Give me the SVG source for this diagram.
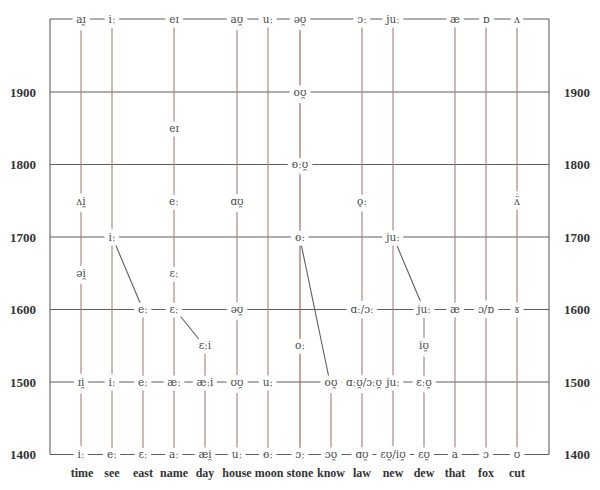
<svg xmlns="http://www.w3.org/2000/svg" width="600" height="490" viewBox="0 0 600 490">
<style>
.v{stroke:#a87c76;stroke-width:1.1;fill:none}
.h{stroke:#5e5e5e;stroke-width:1.1;fill:none}
.d{stroke:#5e5e5e;stroke-width:1.1;fill:none}
.ipa{font-family:"DejaVu Serif",serif;font-size:10.5px;fill:#4a4a4a;text-anchor:middle;stroke:#fff;stroke-width:9;stroke-linejoin:round;paint-order:stroke}
.yr{font-family:"Liberation Serif",serif;font-weight:bold;font-size:13px;fill:#333;text-anchor:middle}
.wd{font-family:"Liberation Serif",serif;font-weight:bold;font-size:12px;fill:#333;text-anchor:middle}
</style>
<rect width="600" height="490" fill="#fff"/>
<g id="connectors">
<line class="h" x1="50" y1="19" x2="50" y2="454.5"/>
<line class="h" x1="549" y1="19" x2="549" y2="454.5"/>
<line class="h" x1="50" y1="19" x2="549" y2="19"/>
<line class="h" x1="50" y1="92" x2="549" y2="92"/>
<line class="h" x1="50" y1="164.5" x2="549" y2="164.5"/>
<line class="h" x1="50" y1="237" x2="549" y2="237"/>
<line class="h" x1="50" y1="309.5" x2="549" y2="309.5"/>
<line class="h" x1="50" y1="382" x2="549" y2="382"/>
<line class="h" x1="50" y1="454.5" x2="549" y2="454.5"/>
<line class="v" x1="81" y1="19" x2="81" y2="454.5"/>
<line class="v" x1="112" y1="19" x2="112" y2="454.5"/>
<line class="v" x1="143" y1="309.5" x2="143" y2="454.5"/>
<line class="v" x1="174" y1="19" x2="174" y2="454.5"/>
<line class="v" x1="205" y1="345.7" x2="205" y2="454.5"/>
<line class="v" x1="237" y1="19" x2="237" y2="454.5"/>
<line class="v" x1="268" y1="19" x2="268" y2="454.5"/>
<line class="v" x1="300" y1="19" x2="300" y2="454.5" style="stroke:#9a5a52"/>
<line class="v" x1="331" y1="382" x2="331" y2="454.5"/>
<line class="v" x1="362" y1="19" x2="362" y2="454.5"/>
<line class="v" x1="393" y1="19" x2="393" y2="454.5"/>
<line class="v" x1="424" y1="309.5" x2="424" y2="454.5"/>
<line class="v" x1="455" y1="19" x2="455" y2="454.5"/>
<line class="v" x1="486" y1="19" x2="486" y2="454.5"/>
<line class="v" x1="517" y1="19" x2="517" y2="454.5"/>
<line class="d" x1="114" y1="241" x2="141" y2="305"/>
<line class="d" x1="177" y1="312" x2="202" y2="343"/>
<line class="d" x1="300.5" y1="241" x2="329" y2="378"/>
<line class="d" x1="395" y1="241" x2="422" y2="305"/>
</g>
<g id="years">
<text class="yr" x="23" y="96.5">1900</text>
<text class="yr" x="23" y="169">1800</text>
<text class="yr" x="23" y="241.5">1700</text>
<text class="yr" x="23" y="314">1600</text>
<text class="yr" x="23" y="386.5">1500</text>
<text class="yr" x="23" y="459">1400</text>
<text class="yr" x="577" y="96.5">1900</text>
<text class="yr" x="577" y="169">1800</text>
<text class="yr" x="577" y="241.5">1700</text>
<text class="yr" x="577" y="314">1600</text>
<text class="yr" x="577" y="386.5">1500</text>
<text class="yr" x="577" y="459">1400</text>
</g>
<g id="words">
<text class="wd" x="82" y="477">time</text>
<text class="wd" x="112" y="477">see</text>
<text class="wd" x="143" y="477">east</text>
<text class="wd" x="174" y="477">name</text>
<text class="wd" x="205" y="477">day</text>
<text class="wd" x="237" y="477">house</text>
<text class="wd" x="269" y="477">moon</text>
<text class="wd" x="300" y="477">stone</text>
<text class="wd" x="331" y="477">know</text>
<text class="wd" x="362" y="477">law</text>
<text class="wd" x="393" y="477">new</text>
<text class="wd" x="424" y="477">dew</text>
<text class="wd" x="455" y="477">that</text>
<text class="wd" x="486" y="477">fox</text>
<text class="wd" x="517" y="477">cut</text>
</g>
<g id="time">
<text class="ipa" x="81" y="22.5">aɪ̯</text>
<text class="ipa" x="81" y="204.5">ʌi̯</text>
<text class="ipa" x="81" y="276.5">əi̯</text>
<text class="ipa" x="81" y="385.5">ɪi̯</text>
<text class="ipa" x="81" y="458">iː</text>
</g>
<g id="see">
<text class="ipa" x="112" y="22.5">iː</text>
<text class="ipa" x="112" y="240.5">iː</text>
<text class="ipa" x="112" y="385.5">iː</text>
<text class="ipa" x="112" y="458">eː</text>
</g>
<g id="east">
<text class="ipa" x="143" y="313">eː</text>
<text class="ipa" x="143" y="385.5">eː</text>
<text class="ipa" x="143" y="458">ɛː</text>
</g>
<g id="name">
<text class="ipa" x="174" y="22.5">eɪ</text>
<text class="ipa" x="174" y="131.5">eɪ</text>
<text class="ipa" x="174" y="204.5">eː</text>
<text class="ipa" x="174" y="276.5">ɛː</text>
<text class="ipa" x="174" y="313">ɛː</text>
<text class="ipa" x="174" y="385.5">æː</text>
<text class="ipa" x="174" y="458">aː</text>
</g>
<g id="day">
<text class="ipa" x="205" y="349">ɛːi</text>
<text class="ipa" x="205" y="385.5">æːi</text>
<text class="ipa" x="205" y="458">æi̯</text>
</g>
<g id="house">
<text class="ipa" x="237" y="22.5">aʊ̯</text>
<text class="ipa" x="237" y="204.5">ɑʊ̯</text>
<text class="ipa" x="237" y="313">əʊ̯</text>
<text class="ipa" x="237" y="385.5">ʊʊ̯</text>
<text class="ipa" x="237" y="458">uː</text>
</g>
<g id="moon">
<text class="ipa" x="268" y="22.5">uː</text>
<text class="ipa" x="268" y="385.5">uː</text>
<text class="ipa" x="268" y="458">oː</text>
</g>
<g id="stone">
<text class="ipa" x="300" y="22.5">əʊ̯</text>
<text class="ipa" x="300" y="95.5">oʊ̯</text>
<text class="ipa" x="300" y="168">oːʊ̯</text>
<text class="ipa" x="300" y="240.5">oː</text>
<text class="ipa" x="300" y="349">oː</text>
<text class="ipa" x="300" y="458">ɔː</text>
</g>
<g id="know">
<text class="ipa" x="331" y="385.5">oʊ̯</text>
<text class="ipa" x="331" y="458">ɔʊ̯</text>
</g>
<g id="law">
<text class="ipa" x="362" y="22.5">ɔː</text>
<text class="ipa" x="362" y="204.5">ǫː</text>
<text class="ipa" x="362" y="313">ɑː/ɔː</text>
<text class="ipa" x="364" y="385.5">ɑːʊ̯/ɔːʊ̯</text>
<text class="ipa" x="362" y="458">ɑʊ̯</text>
</g>
<g id="new">
<text class="ipa" x="393" y="22.5">juː</text>
<text class="ipa" x="393" y="240.5">juː</text>
<text class="ipa" x="393" y="385.5">juː</text>
<text class="ipa" x="393" y="458">ɛʊ̯/iʊ̯</text>
</g>
<g id="dew">
<text class="ipa" x="424" y="313">juː</text>
<text class="ipa" x="424" y="349">iʊ̯</text>
<text class="ipa" x="424" y="385.5">ɛːʊ̯</text>
<text class="ipa" x="424" y="458">ɛʊ̯</text>
</g>
<g id="that">
<text class="ipa" x="455" y="22.5">æ</text>
<text class="ipa" x="455" y="313">æ</text>
<text class="ipa" x="455" y="458">a</text>
</g>
<g id="fox">
<text class="ipa" x="486" y="22.5">ɒ</text>
<text class="ipa" x="486" y="313">ɔ/ɒ</text>
<text class="ipa" x="486" y="458">ɔ</text>
</g>
<g id="cut">
<text class="ipa" x="517" y="22.5">ʌ</text>
<text class="ipa" x="517" y="204.5">ʌ̈</text>
<text class="ipa" x="517" y="313">ɤ</text>
<text class="ipa" x="517" y="458">ʊ</text>
</g>
</svg>
